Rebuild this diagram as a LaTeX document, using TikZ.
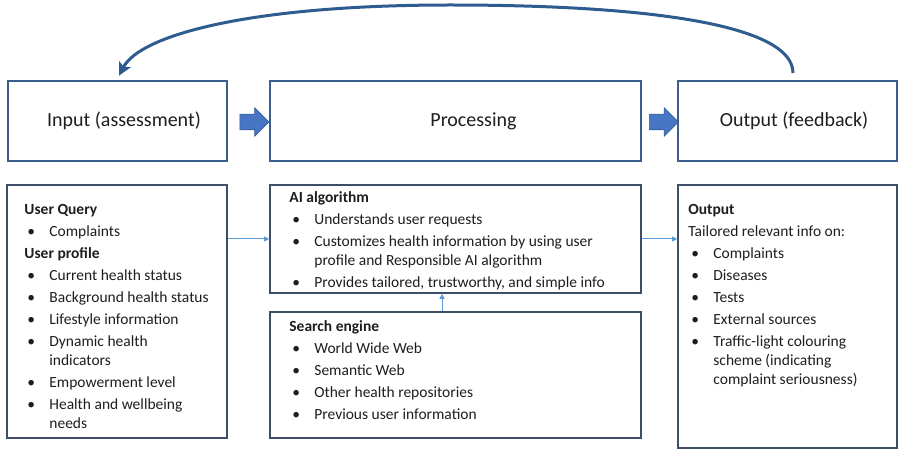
\documentclass[tikz,border=0pt]{standalone}
\usepackage{fontspec}
\setmainfont{Carlito}
\usetikzlibrary{positioning,shapes.arrows,arrows.meta}
\definecolor{boxblue}{RGB}{58,95,140}
\definecolor{listframe}{RGB}{62,78,105}
\definecolor{blockfill}{RGB}{70,118,196}
\definecolor{blockedge}{RGB}{52,92,150}
\definecolor{loopblue}{RGB}{46,92,142}
\definecolor{linkblue}{RGB}{91,155,213}
\definecolor{textgrey}{RGB}{30,30,30}
% bullet line and continued line of a bullet
\newcommand{\itm}[1]{\hspace*{3pt}\makebox[22pt][l]{\textbullet}#1}
\newcommand{\cnt}[1]{\hspace*{25pt}#1}
\tikzset{
  topbox/.style={rectangle, draw=boxblue, line width=2.5pt, fill=white, minimum height=80pt, inner sep=0pt},
  toplabel/.style={inner sep=0pt, font=\fontsize{20}{24}\selectfont, text=textgrey},
  listbox/.style={rectangle, draw=listframe, line width=1.6pt, fill=white, inner sep=0pt},
  listtext/.style={anchor=north west, inner sep=0pt, align=left, font=\fontsize{15.5}{19}\selectfont, text=textgrey},
  blockarrow/.style={single arrow, fill=blockfill, draw=blockedge, line width=0.6pt, inner xsep=0pt, inner ysep=7.5pt,
    minimum height=29pt, single arrow head extend=6.5pt, single arrow head indent=0pt},
  linkarrow/.style={draw=linkblue, line width=1pt, -{Triangle[length=5pt,width=5pt]}},
  looparrow/.style={draw=loopblue, line width=3pt, -{Stealth[length=13pt,width=13pt,inset=3pt]}}
}
\begin{document}
\begin{tikzpicture}[x=1pt, y=-1pt]
\useasboundingbox (0,0) rectangle (898,449);

% Top row
\node[topbox, minimum width=219pt] (inbox) at (117.5,121) {};
\node[topbox, minimum width=371pt] (procbox) at (455.5,121) {};
\node[topbox, minimum width=219pt] (outbox) at (787.5,121) {};
\node[toplabel] (intitle) at ([xshift=6.5pt]inbox.center) {Input (assessment)};
\node[toplabel] (proctitle) at ([xshift=18pt]procbox.center) {Processing};
\node[toplabel] (outtitle) at ([xshift=6.5pt]outbox.center) {Output (feedback)};

\node[blockarrow] (arrowA) at (250.5,122) {};
\node[blockarrow] (arrowB) at (660,122) {};

% Feedback loop
\coordinate (loopstart) at ([xshift=5.5pt,yshift=6.75pt]outbox.north);
\coordinate (looptop) at (450,5);
\draw[looparrow] (loopstart) .. controls (793,25) and (650,5) .. (looptop)
  .. controls (250,5) and (140,35) .. ([xshift=1.5pt,yshift=4pt]inbox.north);

% Bottom row
\node[listbox, minimum width=220pt, minimum height=253pt] (inputdet) at (117,311.5) {};
\node[listbox, minimum width=371pt, minimum height=108pt] (aibox) at (455.5,239) {};
\node[listbox, minimum width=371pt, minimum height=126pt] (searchbox) at (455.5,375) {};
\node[listbox, minimum width=219pt, minimum height=263pt] (outdet) at (787.5,316.5) {};

\node[listtext] (inputtxt) at ([shift={(18,19.5)}]inputdet.north west) {\textbf{User Query}\\[3pt]
  \itm{Complaints}\\[3pt]
  \textbf{User profile}\\[3pt]
  \itm{Current health status}\\[3pt]
  \itm{Background health status}\\[3pt]
  \itm{Lifestyle information}\\[3pt]
  \itm{Dynamic health}\\
  \cnt{indicators}\\[3pt]
  \itm{Empowerment level}\\[3pt]
  \itm{Health and wellbeing}\\
  \cnt{needs}};

\node[listtext] (aitxt) at ([shift={(20,7)}]aibox.north west) {\textbf{AI algorithm}\\[3pt]
  \itm{Understands user requests}\\[3pt]
  \itm{Customizes health information by using user}\\
  \cnt{profile and Responsible AI algorithm}\\[3pt]
  \itm{Provides tailored, trustworthy, and simple info}};

\node[listtext] (searchtxt) at ([shift={(20,9)}]searchbox.north west) {\textbf{Search engine}\\[3pt]
  \itm{World Wide Web}\\[3pt]
  \itm{Semantic Web}\\[3pt]
  \itm{Other health repositories}\\[3pt]
  \itm{Previous user information}};

\node[listtext] (outtxt) at ([shift={(11,19.5)}]outdet.north west) {\textbf{Output}\\[3pt]
  Tailored relevant info on:\\[3pt]
  \itm{Complaints}\\[3pt]
  \itm{Diseases}\\[3pt]
  \itm{Tests}\\[3pt]
  \itm{External sources}\\[3pt]
  \itm{Traffic-light colouring}\\
  \cnt{scheme (indicating}\\
  \cnt{complaint seriousness)}};

% Links
\draw[linkarrow] (inputdet.east |- aibox.west) -- (aibox.west);
\draw[linkarrow] (aibox.east) -- (aibox.east -| outdet.west);
\draw[linkarrow] ([xshift=-13.5pt]searchbox.north) -- ([xshift=-13.5pt]aibox.south);

\end{tikzpicture}
\end{document}
